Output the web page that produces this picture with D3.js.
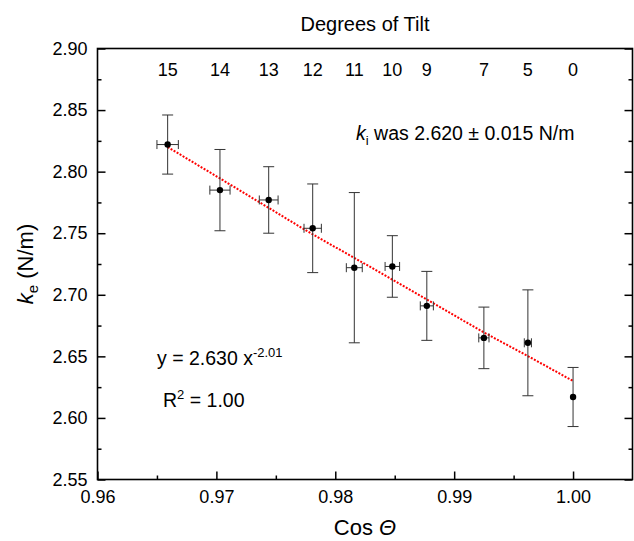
<!DOCTYPE html>
<html><head><meta charset="utf-8">
<script src="https://cdn.jsdelivr.net/npm/d3@7"></script>
<style>
body{margin:0;background:#fff;}
text{font-family:"Liberation Sans",Arial,sans-serif;fill:#000;}
</style></head>
<body><svg id="c" width="634" height="541"></svg>
<script>
const degrees  = [15, 14, 13, 12, 11, 10, 9, 7, 5, 0];
const cosTheta = [0.9659, 0.9703, 0.9744, 0.9781, 0.9816, 0.9848, 0.9877, 0.9925, 0.9962, 1.0000];
const ke       = [2.822, 2.785, 2.777, 2.754, 2.722, 2.723, 2.691, 2.665, 2.661, 2.617];
const keErr    = [0.024, 0.033, 0.027, 0.036, 0.061, 0.025, 0.028, 0.025, 0.043, 0.024];
const cosErr   = [0.0009, 0.00085, 0.00079, 0.00073, 0.00067, 0.00061, 0.00055, 0.00043, 0.00030, 0];
const fitX     = [0.9659, 0.9703, 0.9744, 0.9781, 0.9816, 0.9848, 0.9877, 0.9925, 0.9962, 1.0000];
const fitY     = [2.820, 2.7945, 2.7706, 2.7491, 2.730, 2.7123, 2.6962, 2.6695, 2.6502, 2.630];
const xTicks   = [0.96, 0.97, 0.98, 0.99, 1.00];
const xMinor   = [0.965, 0.975, 0.985, 0.995];
const yTicks   = [2.55, 2.60, 2.65, 2.70, 2.75, 2.80, 2.85, 2.90];
const yMinor   = [2.575, 2.625, 2.675, 2.725, 2.775, 2.825, 2.875];

const L = 97.5, R = 632.5, T = 48.5, B = 479.5;
const svg = d3.select("#c");
const x = d3.scaleLinear().domain([0.96, 1.005]).range([L, R]);
const y = d3.scaleLinear().domain([2.55, 2.90]).range([B, T]);

function styleAxis(g){
  g.selectAll(".domain").remove();
  g.selectAll("line").attr("stroke","#000").attr("stroke-width",1.5);
  g.selectAll("text").attr("font-size","18px").attr("fill","#000")
    .style("font-family","'Liberation Sans',Arial,sans-serif");
}
// left
svg.append("g").attr("transform",`translate(${L},0)`)
  .call(d3.axisLeft(y).tickValues(yTicks).tickSize(-8).tickSizeOuter(0).tickPadding(10).tickFormat(d3.format(".2f")))
  .call(styleAxis);
svg.append("g").attr("transform",`translate(${L},0)`)
  .call(d3.axisLeft(y).tickValues(yMinor).tickSize(-4).tickSizeOuter(0).tickFormat(""))
  .call(styleAxis);
// right
svg.append("g").attr("transform",`translate(${R},0)`)
  .call(d3.axisRight(y).tickValues(yTicks).tickSize(-8).tickSizeOuter(0).tickFormat(""))
  .call(styleAxis);
svg.append("g").attr("transform",`translate(${R},0)`)
  .call(d3.axisRight(y).tickValues(yMinor).tickSize(-4).tickSizeOuter(0).tickFormat(""))
  .call(styleAxis);
// bottom
svg.append("g").attr("transform",`translate(0,${B})`)
  .call(d3.axisBottom(x).tickValues(xTicks).tickSize(-8).tickSizeOuter(0).tickPadding(11).tickFormat(d3.format(".2f")))
  .call(styleAxis);
svg.append("g").attr("transform",`translate(0,${B})`)
  .call(d3.axisBottom(x).tickValues(xMinor).tickSize(-4).tickSizeOuter(0).tickFormat(""))
  .call(styleAxis);
// frame
svg.append("rect").attr("x",L).attr("y",T).attr("width",R-L).attr("height",B-T)
  .attr("fill","none").attr("stroke","#000").attr("stroke-width",1.6);

// top degree labels
svg.append("g").selectAll("text").data(degrees).join("text")
  .attr("x",(d,i)=>x(cosTheta[i])).attr("y",76).attr("text-anchor","middle")
  .attr("font-size","18px").text(d=>d);
svg.append("text").attr("x",(L+R)/2).attr("y",31).attr("text-anchor","middle")
  .attr("font-size","20px").text("Degrees of Tilt");

// fit line
const pts = fitX.map((v,i)=>[v,fitY[i]]);
svg.append("path").datum(pts)
  .attr("d",d3.line().x(d=>x(d[0])).y(d=>y(d[1])).curve(d3.curveMonotoneX))
  .attr("fill","none").attr("stroke","#ff0000").attr("stroke-width",2).attr("stroke-dasharray","2,1.5");

// error bars
const eb = svg.append("g").attr("stroke","#333").attr("stroke-width",1);
ke.forEach((v,i)=>{
  const cx = x(cosTheta[i]), cy = y(v);
  const y1 = y(v+keErr[i]), y2 = y(v-keErr[i]);
  eb.append("line").attr("x1",cx).attr("x2",cx).attr("y1",y1).attr("y2",y2);
  eb.append("line").attr("x1",cx-5.5).attr("x2",cx+5.5).attr("y1",y1).attr("y2",y1);
  eb.append("line").attr("x1",cx-5.5).attr("x2",cx+5.5).attr("y1",y2).attr("y2",y2);
  if (cosErr[i] > 0){
    const xa = x(cosTheta[i]-cosErr[i]), xb = x(cosTheta[i]+cosErr[i]);
    eb.append("line").attr("x1",xa).attr("x2",xb).attr("y1",cy).attr("y2",cy);
    eb.append("line").attr("x1",xa).attr("x2",xa).attr("y1",cy-4.5).attr("y2",cy+4.5);
    eb.append("line").attr("x1",xb).attr("x2",xb).attr("y1",cy-4.5).attr("y2",cy+4.5);
  }
});
svg.append("g").selectAll("circle").data(ke).join("circle")
  .attr("cx",(d,i)=>x(cosTheta[i])).attr("cy",d=>y(d)).attr("r",3.2).attr("fill","#000");

// annotations
const a1 = svg.append("text").attr("x",356).attr("y",140).attr("font-size","19.5px");
a1.append("tspan").attr("font-style","italic").text("k");
a1.append("tspan").attr("font-size","13px").attr("dy",5).text("i");
a1.append("tspan").attr("dy",-5).text(" was 2.620 \u00b1 0.015 N/m");

const a2 = svg.append("text").attr("x",157).attr("y",365).attr("font-size","19.5px");
a2.append("tspan").text("y = 2.630 x");
a2.append("tspan").attr("font-size","13px").attr("dy",-8).text("-2.01");

const a3 = svg.append("text").attr("x",163).attr("y",407).attr("font-size","19.5px");
a3.append("tspan").text("R");
a3.append("tspan").attr("font-size","13px").attr("dy",-8).text("2");
a3.append("tspan").attr("dy",8).text(" = 1.00");

// axis titles
const yl = svg.append("text").attr("transform","translate(33,264) rotate(-90)")
  .attr("text-anchor","middle").attr("font-size","22px");
yl.append("tspan").attr("font-style","italic").text("k");
yl.append("tspan").attr("font-size","15px").attr("dy",5).text("e");
yl.append("tspan").attr("dy",-5).text(" (N/m)");

const xl = svg.append("text").attr("x",(L+R)/2).attr("y",535).attr("text-anchor","middle").attr("font-size","22px");
xl.append("tspan").text("Cos ");
xl.append("tspan").attr("font-style","italic").text("\u0398");
</script></body></html>
